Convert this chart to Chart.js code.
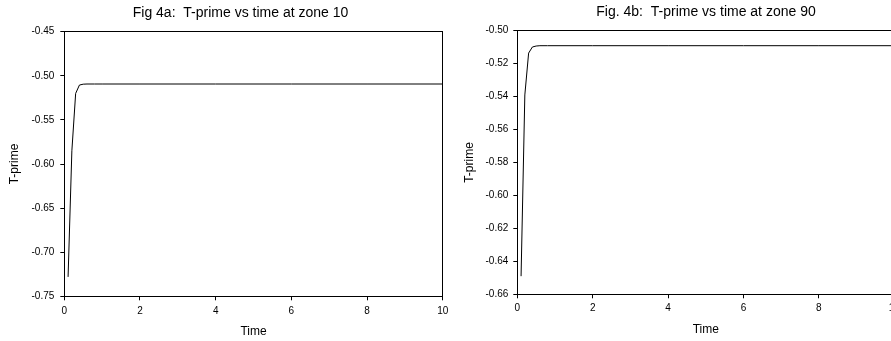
<!DOCTYPE html>
<html lang="en">
<head>
    <meta charset="UTF-8">
    <title>T-prime vs time</title>
    <style>
        body {
            margin: 0;
            background: #fff;
            overflow: hidden;
            width: 891px;
            height: 341px;
            position: relative;
        }

        canvas {
            position: absolute;
            top: 0;
        }

        #chartA { left: 0; }
        #chartB { left: 440px; }
    </style>
</head>
<body>
    <canvas id="chartA" width="481" height="341"></canvas>
    <canvas id="chartB" width="532" height="341"></canvas>

    <script src="https://cdn.jsdelivr.net/npm/chart.js@4.4.3/dist/chart.umd.min.js"></script>
    <script>
        // Fig 4a, zone 10
        const timeA = [0.1, 0.2, 0.3, 0.4, 0.5, 0.6, 0.8, 1.0, 2, 4, 6, 8, 10];
        const tprimeA = [-0.728, -0.585, -0.520, -0.5105, -0.5095, -0.5093, -0.5093, -0.5093, -0.5093, -0.5093, -0.5093, -0.5093, -0.5093];
        const xTicksA = [0, 2, 4, 6, 8, 10];
        const yTicksA = [-0.75, -0.70, -0.65, -0.60, -0.55, -0.50, -0.45];

        // Fig 4b, zone 90
        const timeB = [0.1, 0.2, 0.3, 0.4, 0.5, 0.6, 0.8, 1.0, 2, 4, 6, 8, 10];
        const tprimeB = [-0.649, -0.539, -0.5136, -0.5099, -0.5093, -0.5091, -0.5091, -0.5091, -0.5091, -0.5091, -0.5091, -0.5091, -0.5091];
        const xTicksB = [0, 2, 4, 6, 8, 10];
        const yTicksB = [-0.66, -0.64, -0.62, -0.60, -0.58, -0.56, -0.54, -0.52, -0.50];

        const fontFamily = '"Liberation Sans", Arial, sans-serif';
        const ink = '#000';

        function makeChart(id, opts) {
            const points = opts.time.map((t, i) => ({ x: t, y: opts.values[i] }));
            const xt = opts.xTicks, yt = opts.yTicks;
            return new Chart(document.getElementById(id), {
                type: 'line',
                data: {
                    datasets: [{
                        data: points,
                        borderColor: ink,
                        borderWidth: 1,
                        pointRadius: 0,
                        tension: 0,
                        fill: false
                    }]
                },
                options: {
                    responsive: false,
                    animation: false,
                    layout: { padding: 0 },
                    plugins: {
                        legend: { display: false },
                        tooltip: { enabled: false },
                        title: {
                            display: true,
                            text: opts.title,
                            color: ink,
                            font: { family: fontFamily, size: 14, weight: 'normal', lineHeight: 1.2 },
                            padding: opts.titlePad
                        }
                    },
                    scales: {
                        x: {
                            type: 'linear',
                            position: 'bottom',
                            min: xt[0],
                            max: xt[xt.length - 1],
                            afterBuildTicks: s => { s.ticks = xt.map(v => ({ value: v })); },
                            afterFit: s => { s.height = opts.xHeight; },
                            grid: { display: true, drawOnChartArea: false, drawTicks: true, tickLength: 4, color: ink },
                            border: { display: true, color: ink, width: 1 },
                            ticks: {
                                color: ink,
                                padding: opts.xTickPad,
                                maxRotation: 0,
                                font: { family: fontFamily, size: 10 },
                                callback: v => String(v)
                            },
                            title: {
                                display: true,
                                text: 'Time',
                                color: ink,
                                font: { family: fontFamily, size: 12 },
                                padding: { top: 0, bottom: opts.xTitlePad }
                            }
                        },
                        y: {
                            type: 'linear',
                            position: 'left',
                            min: yt[0],
                            max: yt[yt.length - 1],
                            afterBuildTicks: s => { s.ticks = yt.map(v => ({ value: v })); },
                            afterFit: s => { s.width = opts.yWidth; },
                            grid: { display: true, drawOnChartArea: false, drawTicks: true, tickLength: 4, color: ink },
                            border: { display: true, color: ink, width: 1 },
                            ticks: {
                                color: ink,
                                padding: opts.yTickPad,
                                font: { family: fontFamily, size: 10 },
                                callback: v => v.toFixed(2)
                            },
                            title: {
                                display: true,
                                text: 'T-prime',
                                color: ink,
                                font: { family: fontFamily, size: 12 },
                                padding: { top: opts.yTitlePad, bottom: 0 }
                            }
                        },
                        // frame lines on top and right of the plot
                        xTop: {
                            type: 'linear',
                            position: 'top',
                            min: 0,
                            max: 1,
                            afterFit: s => { s.height = 0; },
                            grid: { display: false },
                            ticks: { display: false },
                            border: { display: true, color: ink, width: 1 }
                        },
                        yRight: {
                            type: 'linear',
                            position: 'right',
                            min: 0,
                            max: 1,
                            afterFit: s => { s.width = opts.rightGap; },
                            grid: { display: false },
                            ticks: { display: false },
                            border: { display: true, color: ink, width: 1 }
                        }
                    }
                }
            });
        }

        makeChart('chartA', {
            title: 'Fig 4a:  T-prime vs time at zone 10',
            time: timeA,
            values: tprimeA,
            xTicks: xTicksA,
            yTicks: yTicksA,
            titlePad: { top: 4.6, bottom: 10.3 },
            xHeight: 44.7,
            yWidth: 64.3,
            rightGap: 38.3,
            xTickPad: 5,
            yTickPad: 6,
            xTitlePad: 2,
            yTitlePad: 7.3
        });

        makeChart('chartB', {
            title: 'Fig. 4b:  T-prime vs time at zone 90',
            time: timeB,
            values: tprimeB,
            xTicks: xTicksB,
            yTicks: yTicksB,
            titlePad: { top: 4.1, bottom: 9.8 },
            xHeight: 46.7,
            yWidth: 77.3,
            rightGap: 77.7,
            xTickPad: 4,
            yTickPad: 5,
            xTitlePad: 3.8,
            yTitlePad: 22.8
        });
    </script>
</body>
</html>
